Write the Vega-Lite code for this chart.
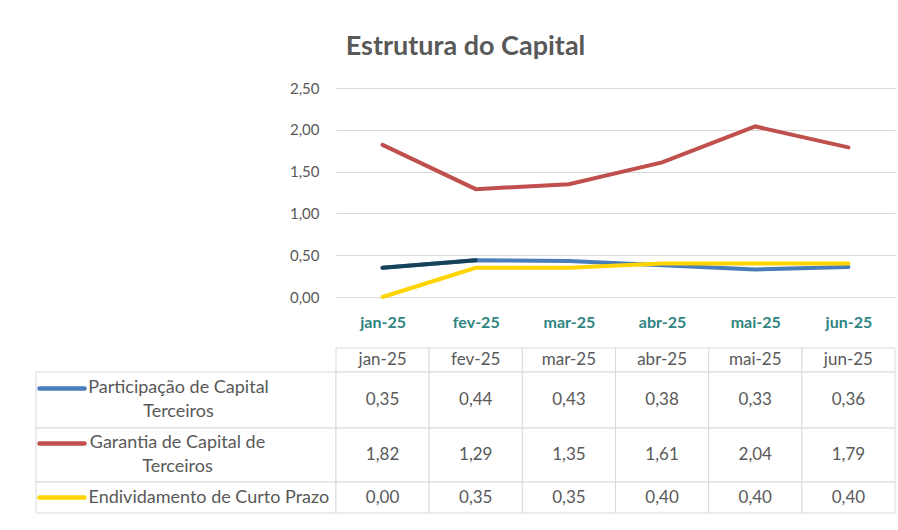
{
  "$schema": "https://vega.github.io/schema/vega-lite/v6.json",
  "background": "white",
  "padding": {"left": 35, "top": 33, "right": 2, "bottom": 10},
  "title": {"text": "Estrutura do Capital", "fontSize": 27, "fontWeight": "bold", "color": "#595959", "font": "Lato", "anchor": "middle", "offset": 20},
  "datasets": {
    "dados": [
      {"mes": "jan-25", "serie": "Participação de Capital Terceiros", "valor": 0.35},
      {"mes": "fev-25", "serie": "Participação de Capital Terceiros", "valor": 0.44},
      {"mes": "mar-25", "serie": "Participação de Capital Terceiros", "valor": 0.43},
      {"mes": "abr-25", "serie": "Participação de Capital Terceiros", "valor": 0.38},
      {"mes": "mai-25", "serie": "Participação de Capital Terceiros", "valor": 0.33},
      {"mes": "jun-25", "serie": "Participação de Capital Terceiros", "valor": 0.36},
      {"mes": "jan-25", "serie": "Garantia de Capital de Terceiros", "valor": 1.82},
      {"mes": "fev-25", "serie": "Garantia de Capital de Terceiros", "valor": 1.29},
      {"mes": "mar-25", "serie": "Garantia de Capital de Terceiros", "valor": 1.35},
      {"mes": "abr-25", "serie": "Garantia de Capital de Terceiros", "valor": 1.61},
      {"mes": "mai-25", "serie": "Garantia de Capital de Terceiros", "valor": 2.04},
      {"mes": "jun-25", "serie": "Garantia de Capital de Terceiros", "valor": 1.79},
      {"mes": "jan-25", "serie": "Endividamento de Curto Prazo", "valor": 0.0},
      {"mes": "fev-25", "serie": "Endividamento de Curto Prazo", "valor": 0.35},
      {"mes": "mar-25", "serie": "Endividamento de Curto Prazo", "valor": 0.35},
      {"mes": "abr-25", "serie": "Endividamento de Curto Prazo", "valor": 0.40},
      {"mes": "mai-25", "serie": "Endividamento de Curto Prazo", "valor": 0.40},
      {"mes": "jun-25", "serie": "Endividamento de Curto Prazo", "valor": 0.40}
    ]
  },
  "columns": 2,
  "bounds": "flush",
  "spacing": 0,
  "concat": [
    {"width": 300, "height": 209, "data": {"values": []}, "mark": "point"},
    {
      "width": 559, "height": 209,
      "data": {"name": "dados"},
      "layer": [
        {
          "mark": {"type": "line", "strokeWidth": 4, "strokeCap": "round"},
          "encoding": {
            "x": {"field": "mes", "type": "ordinal", "sort": null, "scale": {"type": "point", "padding": 0.5},
                  "axis": {"title": null, "ticks": false, "domain": false, "grid": false, "labelAngle": 0, "labelFontSize": 16, "labelFontWeight": "bold", "labelColor": "#2E8480", "labelPadding": 17}},
            "y": {"field": "valor", "type": "quantitative", "scale": {"domain": [0, 2.5], "nice": false},
                  "axis": {"title": null, "values": [0, 0.5, 1, 1.5, 2, 2.5], "format": ".2f", "ticks": false, "domain": false, "gridColor": "#d9d9d9", "labelFontSize": 15, "labelColor": "#595959", "labelPadding": 17}},
            "color": {"field": "serie", "type": "nominal", "legend": null,
                      "scale": {"domain": ["Participação de Capital Terceiros", "Garantia de Capital de Terceiros", "Endividamento de Curto Prazo"], "range": ["#4A7EBB", "#C0504D", "#FFD400"]}}
          }
        },
        {
          "transform": [{"filter": "datum.serie == 'Participação de Capital Terceiros' && (datum.mes == 'jan-25' || datum.mes == 'fev-25')"}],
          "mark": {"type": "line", "strokeWidth": 4, "strokeCap": "round", "color": "#17435A"},
          "encoding": {
            "x": {"field": "mes", "type": "ordinal", "sort": null},
            "y": {"field": "valor", "type": "quantitative"}
          }
        }
      ]
    },
    {"width": 300, "height": 51, "data": {"values": []}, "mark": "point"},
    {"width": 559, "height": 51, "data": {"values": []}, "mark": "point"},
    {"width": 300, "height": 24, "data": {"values": []}, "mark": "point"},
    {
      "width": 559, "height": 24,
      "data": {"name": "dados"},
      "transform": [{"filter": "datum.serie == 'Participação de Capital Terceiros'"}],
      "encoding": {"x": {"field": "mes", "type": "ordinal", "sort": null, "scale": {"paddingInner": 0, "paddingOuter": 0}, "axis": null}},
      "layer": [
        {"mark": {"type": "rect", "fill": "white", "stroke": "#d9d9d9", "strokeWidth": 1}},
        {"mark": {"type": "text", "fontSize": 17, "color": "#595959", "baseline": "middle"}, "encoding": {"text": {"field": "mes"}}}
      ]
    },
    {
      "width": 300, "height": 56,
      "data": {"name": "dados"},
      "transform": [{"filter": "datum.serie == 'Participação de Capital Terceiros' && datum.mes == 'jan-25'"}],
      "mark": {"type": "rect", "fill": "white", "stroke": "#d9d9d9", "strokeWidth": 1},
      "encoding": {"y": {"field": "serie", "type": "nominal", "scale": {"paddingInner": 0, "paddingOuter": 0},
        "axis": {"title": null, "zindex": 1, "domain": false, "grid": false, "tickColor": "#4A7EBB", "tickWidth": 4.5, "tickSize": 45, "tickCap": "round", "offset": -48, "bandPosition": 0.29, "labelOffset": -12, "labelAlign": "center", "labelBaseline": "middle", "labelPadding": -139, "labelFontSize": 18, "labelColor": "#595959", "labelLineHeight": 24, "labelLimit": 0, "labelExpr": "['Participação de Capital', 'Terceiros']"}}}
    },
    {
      "width": 559, "height": 56,
      "data": {"name": "dados"},
      "transform": [{"filter": "datum.serie == 'Participação de Capital Terceiros'"}],
      "encoding": {"x": {"field": "mes", "type": "ordinal", "sort": null, "scale": {"paddingInner": 0, "paddingOuter": 0}, "axis": null}},
      "layer": [
        {"mark": {"type": "rect", "fill": "white", "stroke": "#d9d9d9", "strokeWidth": 1}},
        {"mark": {"type": "text", "fontSize": 17, "color": "#595959", "baseline": "middle"}, "encoding": {"text": {"field": "valor", "format": ".2f"}}}
      ]
    },
    {
      "width": 300, "height": 54,
      "data": {"name": "dados"},
      "transform": [{"filter": "datum.serie == 'Garantia de Capital de Terceiros' && datum.mes == 'jan-25'"}],
      "mark": {"type": "rect", "fill": "white", "stroke": "#d9d9d9", "strokeWidth": 1},
      "encoding": {"y": {"field": "serie", "type": "nominal", "scale": {"paddingInner": 0, "paddingOuter": 0},
        "axis": {"title": null, "zindex": 1, "domain": false, "grid": false, "tickColor": "#C0504D", "tickWidth": 4.5, "tickSize": 45, "tickCap": "round", "offset": -48, "bandPosition": 0.28, "labelOffset": -12, "labelAlign": "center", "labelBaseline": "middle", "labelPadding": -138, "labelFontSize": 18, "labelColor": "#595959", "labelLineHeight": 24, "labelLimit": 0, "labelExpr": "['Garantia de Capital de', 'Terceiros']"}}}
    },
    {
      "width": 559, "height": 54,
      "data": {"name": "dados"},
      "transform": [{"filter": "datum.serie == 'Garantia de Capital de Terceiros'"}],
      "encoding": {"x": {"field": "mes", "type": "ordinal", "sort": null, "scale": {"paddingInner": 0, "paddingOuter": 0}, "axis": null}},
      "layer": [
        {"mark": {"type": "rect", "fill": "white", "stroke": "#d9d9d9", "strokeWidth": 1}},
        {"mark": {"type": "text", "fontSize": 17, "color": "#595959", "baseline": "middle"}, "encoding": {"text": {"field": "valor", "format": ".2f"}}}
      ]
    },
    {
      "width": 300, "height": 31,
      "data": {"name": "dados"},
      "transform": [{"filter": "datum.serie == 'Endividamento de Curto Prazo' && datum.mes == 'jan-25'"}],
      "mark": {"type": "rect", "fill": "white", "stroke": "#d9d9d9", "strokeWidth": 1},
      "encoding": {"y": {"field": "serie", "type": "nominal", "scale": {"paddingInner": 0, "paddingOuter": 0},
        "axis": {"title": null, "zindex": 1, "domain": false, "grid": false, "tickColor": "#FFD400", "tickWidth": 4.5, "tickSize": 45, "tickCap": "round", "offset": -48, "labelAlign": "left", "labelBaseline": "middle", "labelPadding": -49, "labelFontSize": 18, "labelColor": "#595959", "labelLimit": 0}}}
    },
    {
      "width": 559, "height": 31,
      "data": {"name": "dados"},
      "transform": [{"filter": "datum.serie == 'Endividamento de Curto Prazo'"}],
      "encoding": {"x": {"field": "mes", "type": "ordinal", "sort": null, "scale": {"paddingInner": 0, "paddingOuter": 0}, "axis": null}},
      "layer": [
        {"mark": {"type": "rect", "fill": "white", "stroke": "#d9d9d9", "strokeWidth": 1}},
        {"mark": {"type": "text", "fontSize": 17, "color": "#595959", "baseline": "middle"}, "encoding": {"text": {"field": "valor", "format": ".2f"}}}
      ]
    }
  ],
  "config": {
    "font": "Lato",
    "view": {"stroke": null},
    "locale": {"number": {"decimal": ",", "thousands": ".", "grouping": [3], "currency": ["R$ ", ""]}}
  }
}
